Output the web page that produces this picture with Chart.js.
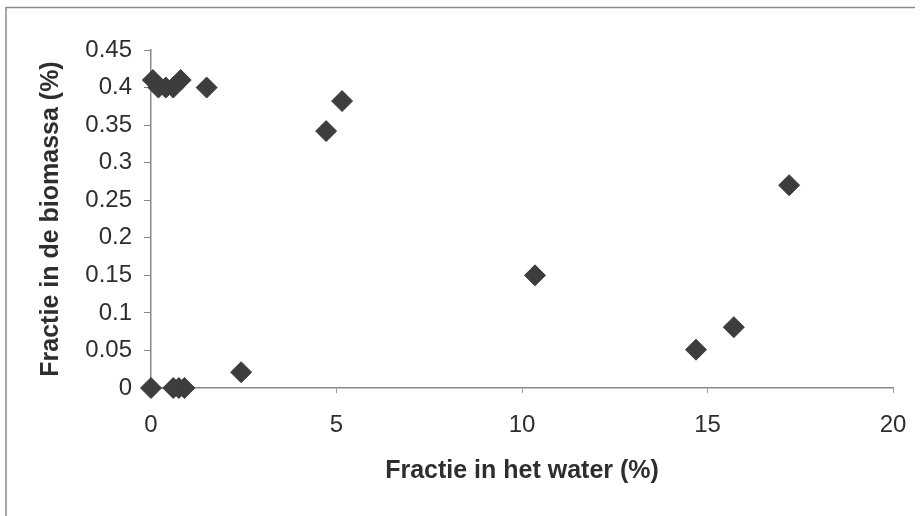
<!DOCTYPE html>
<html>
<head>
<meta charset="utf-8">
<script src="https://cdn.jsdelivr.net/npm/chart.js@4/dist/chart.umd.min.js"></script>
<style>
  html, body { margin: 0; padding: 0; background: #fff; }
  #wrap { position: relative; width: 920px; height: 516px; }
  canvas { display: block; }
</style>
</head>
<body>
<div id="wrap"><canvas id="c" width="920" height="516"></canvas></div>
<script>
// Data
const waterFraction   = [0, 0.6, 0.75, 0.9, 0.05, 0.2, 0.4, 0.6, 0.8, 1.5, 2.43, 4.72, 5.15, 10.35, 14.69, 15.71, 17.2];
const biomassFraction = [0, 0,   0,    0,   0.41, 0.40, 0.40, 0.40, 0.41, 0.40, 0.021, 0.342, 0.382, 0.150, 0.051, 0.081, 0.270];
const xTickLabels = ['0', '5', '10', '15', '20'];
const yTickLabels = ['0', '0.05', '0.1', '0.15', '0.2', '0.25', '0.3', '0.35', '0.4', '0.45'];
const xTitle = 'Fractie in het water (%)';
const yTitle = 'Fractie in de biomassa (%)';

const points = waterFraction.map((x, i) => ({ x: x, y: biomassFraction[i] }));

const framePlugin = {
  id: 'frame',
  beforeDraw(chart) {
    const ctx = chart.ctx;
    ctx.save();
    ctx.strokeStyle = '#8a8a8a';
    ctx.lineWidth = 1.5;
    ctx.beginPath();
    ctx.moveTo(6, 516);
    ctx.lineTo(6, 7.5);
    ctx.lineTo(915, 7.5);
    ctx.stroke();
    ctx.restore();
  }
};

const tickFont = { family: "'Liberation Sans', Arial, sans-serif", size: 24 };
const titleFont = { family: "'Liberation Sans', Arial, sans-serif", size: 25, weight: 'bold' };

new Chart(document.getElementById('c'), {
  type: 'scatter',
  data: {
    datasets: [{
      data: points,
      clip: false,
      pointStyle: 'rectRot',
      pointRadius: 10.5,
      pointHoverRadius: 10.5,
      backgroundColor: '#3d3d3d',
      borderColor: '#3d3d3d',
      borderWidth: 1
    }]
  },
  options: {
    responsive: false,
    animation: false,
    devicePixelRatio: 1,
    layout: { autoPadding: false, padding: { left: 30, top: 50, right: 27, bottom: 20 } },
    plugins: { legend: { display: false }, tooltip: { enabled: false } },
    scales: {
      x: {
        type: 'linear',
        min: 0, max: 20,
        afterFit(s) { s.height = 516 - 20 - 388; s.paddingRight = 0; s.paddingLeft = 0; },
        ticks: {
          stepSize: 5,
          padding: 18,
          color: '#2e2e2e',
          font: tickFont,
          maxRotation: 0,
          callback: (v, i) => xTickLabels[i]
        },
        grid: { display: true, drawOnChartArea: false, drawTicks: true, tickLength: 5, color: '#9a9a9a' },
        border: { display: true, color: '#888', width: 1.5 },
        title: { display: true, text: xTitle, color: '#2e2e2e', font: titleFont, padding: 10 }
      },
      y: {
        type: 'linear',
        min: 0, max: 0.45,
        afterFit(s) { s.width = 151 - 30; s.paddingTop = 0; s.paddingBottom = 0; },
        ticks: {
          stepSize: 0.05,
          padding: 12,
          color: '#2e2e2e',
          font: tickFont,
          callback: (v, i) => yTickLabels[i]
        },
        grid: { display: true, drawOnChartArea: false, drawTicks: true, tickLength: 7, color: '#888' },
        border: { display: true, color: '#888', width: 1.5 },
        title: { display: true, text: yTitle, color: '#2e2e2e', font: titleFont, padding: 6 }
      }
    }
  },
  plugins: [framePlugin]
});
</script>
</body>
</html>
